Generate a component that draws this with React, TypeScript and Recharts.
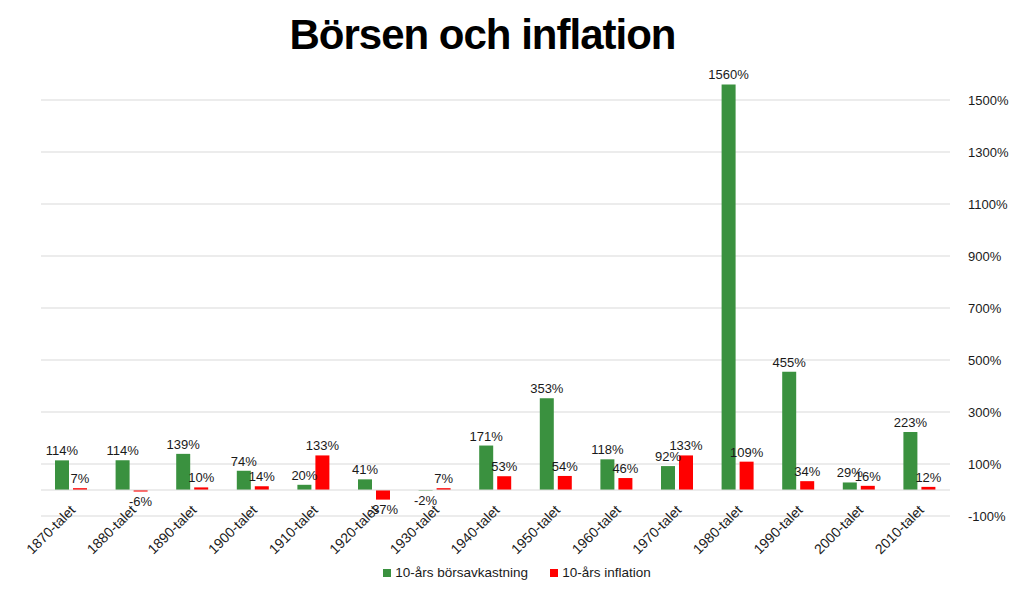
import { BarChart, Bar, XAxis, YAxis, CartesianGrid, Legend, LabelList, ReferenceLine } from 'recharts'

const DECADES = [
  '1870-talet', '1880-talet', '1890-talet', '1900-talet', '1910-talet',
  '1920-talet', '1930-talet', '1940-talet', '1950-talet', '1960-talet',
  '1970-talet', '1980-talet', '1990-talet', '2000-talet', '2010-talet',
]
const BORS = [114, 114, 139, 74, 20, 41, -2, 171, 353, 118, 92, 1560, 455, 29, 223]
const INFLATION = [7, -6, 10, 14, 133, -37, 7, 53, 54, 46, 133, 109, 34, 16, 12]
const Y_TICKS = [-100, 100, 300, 500, 700, 900, 1100, 1300, 1500]

const FONT = '"Liberation Sans", Arial, sans-serif'
const GREEN = '#3a913f'
const RED = '#ff0000'

const data = DECADES.map((d, i) => ({
  name: d,
  bors: BORS[i],
  infl: INFLATION[i],
}))

const DecadeTick = ({ x, y, payload }: any) => {
  const ax = x + 5
  const ay = y - 13
  return (
    <text x={ax} y={ay} transform={`rotate(-45, ${ax}, ${ay})`} textAnchor="end" fontSize={14} fill="#1a1a1a" fontFamily={FONT}>
      {payload.value}
    </text>
  )
}

const pct = (v: any) => `${v}%`

export default function App() {
  return (
    <div style={{ position: 'absolute', left: 0, top: 0, width: 1024, height: 595, background: '#fff', fontFamily: FONT }}>
      <div style={{ position: 'absolute', left: 0, top: 14, width: 965, textAlign: 'center', fontSize: 42, fontWeight: 700, lineHeight: 1, letterSpacing: -1, color: '#000', whiteSpace: 'nowrap' }}>
        Börsen och inflation
      </div>
      <BarChart width={1024} height={595} data={data} margin={{ top: 48, right: 0, left: 41, bottom: 34 }} barSize={14} barGap={4}>
        <CartesianGrid vertical={false} stroke="#d9d9d9" horizontalValues={Y_TICKS} />
        <XAxis dataKey="name" height={45} axisLine={false} tickLine={false} interval={0} tick={<DecadeTick />} />
        <YAxis
          orientation="right"
          width={74}
          domain={[-100, 1700]}
          ticks={Y_TICKS}
          axisLine={false}
          tickLine={false}
          tickMargin={12}
          tickFormatter={pct}
          tick={{ fontSize: 13, fill: '#1a1a1a', fontFamily: FONT, textAnchor: 'start' }}
        />
        <ReferenceLine y={0} stroke="#d9d9d9" />
        <Legend
          verticalAlign="middle"
          iconType="square"
          iconSize={8}
          wrapperStyle={{ top: 565, left: 10, width: 1024, fontSize: 13.5, fontFamily: FONT }}
          formatter={(v: any, _e: any, i: number) => (
            <span style={{ color: '#1a1a1a', marginRight: i === 0 ? 12 : 0 }}>{v}</span>
          )}
        />
        <Bar dataKey="bors" name="10-års börsavkastning" fill={GREEN} isAnimationActive={false}>
          <LabelList dataKey="bors" position="top" offset={5} formatter={pct} style={{ fontSize: 13, fill: '#1a1a1a', fontFamily: FONT }} />
        </Bar>
        <Bar dataKey="infl" name="10-års inflation" fill={RED} isAnimationActive={false}>
          <LabelList dataKey="infl" position="top" offset={5} formatter={pct} style={{ fontSize: 13, fill: '#1a1a1a', fontFamily: FONT }} />
        </Bar>
      </BarChart>
    </div>
  )
}
